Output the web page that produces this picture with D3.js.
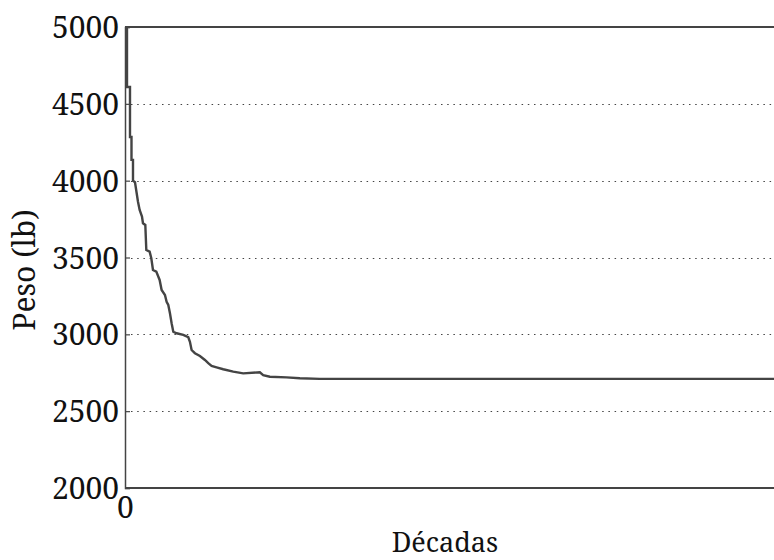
<!DOCTYPE html>
<html>
<head>
<meta charset="utf-8">
<script src="https://cdn.jsdelivr.net/npm/d3@7"></script>
<style>
  html, body { margin: 0; padding: 0; background: #fff; }
</style>
</head>
<body>
<svg id="chart" width="774" height="560"></svg>
<script>
// Peso por década (lb)
const decades = [0.6, 0.6, 1.5, 1.5, 1.95, 1.95, 2.4, 2.4, 3.0, 3.9, 4.4, 5.1, 5.4, 6.1, 6.4, 7.4, 7.9, 8.4, 9.4, 10.4, 11.0, 12.0, 12.5, 13.0, 13.5, 14.0, 14.5, 15.5, 17.5, 19.0, 19.5, 20.0, 21.0, 22.5, 24.0, 25.0, 26.0, 27.5, 29.5, 32.5, 35.5, 40.5, 41.5, 43.5, 48.5, 52.5, 58.5, 200];
const weights = [5000, 4610, 4610, 4284, 4284, 4135, 4135, 4000, 3990, 3863, 3809, 3766, 3723, 3712, 3549, 3538, 3495, 3419, 3408, 3354, 3289, 3256, 3212, 3191, 3137, 3072, 3017, 3007, 2996, 2981, 2952, 2898, 2877, 2859, 2833, 2812, 2794, 2785, 2773, 2757, 2746, 2753, 2735, 2724, 2720, 2714, 2710, 2710];
const yTicks = [2000, 2500, 3000, 3500, 4000, 4500, 5000];
const gridTicks = [2500, 3000, 3500, 4000, 4500];
const xTicks = [0];

const FONT = "'Noto Serif', 'DejaVu Serif', serif";
const FS = 30;
const margin = { left: 125, top: 27, right: -17, bottom: 72 };
const W = 774, H = 560;
const svg = d3.select("#chart");

const x = d3.scaleLinear().domain([0, 200]).range([margin.left, W - margin.right]);
const y = d3.scaleLinear().domain([2000, 5000]).range([H - margin.bottom, margin.top]);

// dotted grid
svg.append("g").selectAll("line").data(gridTicks).join("line")
  .attr("x1", x(0) + 6).attr("x2", x(200))
  .attr("y1", d => Math.round(y(d)) + 0.5).attr("y2", d => Math.round(y(d)) + 0.5)
  .attr("stroke", "#444").attr("stroke-width", 1.2)
  .attr("stroke-dasharray", "1.5,4.7");

// frame: top and bottom lines
svg.append("line").attr("x1", x(0)).attr("x2", x(200))
  .attr("y1", y(5000)).attr("y2", y(5000))
  .attr("stroke", "#444").attr("stroke-width", 2);
svg.append("line").attr("x1", x(0)).attr("x2", x(200))
  .attr("y1", y(2000)).attr("y2", y(2000))
  .attr("stroke", "#444").attr("stroke-width", 2);

// y axis with inward ticks
const yAxis = d3.axisLeft(y).tickValues(yTicks).tickSize(-5).tickPadding(10).tickFormat(d3.format("d"));
const gy = svg.append("g").attr("transform", `translate(${x(0)},0)`).call(yAxis);
gy.select(".domain").attr("stroke", "#444").attr("stroke-width", 1.5);
gy.selectAll(".tick line").attr("stroke", "#444").attr("stroke-width", 1.2);
gy.selectAll(".tick text").attr("font-size", FS).attr("x", -6).attr("dy", "0.35em")
  .style("font-family", FONT).attr("fill", "#111");

// x axis: only origin tick
const xAxis = d3.axisBottom(x).tickValues(xTicks).tickSize(0).tickPadding(9).tickFormat(d3.format("d"));
const gx = svg.append("g").attr("transform", `translate(0,${y(2000)})`).call(xAxis);
gx.select(".domain").remove();
gx.selectAll(".tick text").attr("font-size", FS).attr("dy", "0.71em")
  .style("font-family", FONT).attr("fill", "#111");

// weight curve
svg.append("clipPath").attr("id", "plot-clip").append("rect")
  .attr("x", x(0)).attr("y", y(5000)).attr("width", x(200) - x(0)).attr("height", y(2000) - y(5000));
const line = d3.line().x(d => x(d[0])).y(d => y(d[1]));
svg.append("path")
  .datum(d3.zip(decades, weights))
  .attr("clip-path", "url(#plot-clip)")
  .attr("d", line)
  .attr("fill", "none").attr("stroke", "#444").attr("stroke-width", 2.4);

// axis titles
svg.append("text").attr("x", 445).attr("y", 552).attr("text-anchor", "middle")
  .style("font-family", FONT).attr("font-size", 27).attr("fill", "#111").text("Décadas");
svg.append("text").attr("transform", "translate(35,270) rotate(-90)")
  .attr("text-anchor", "middle").style("font-family", FONT).attr("font-size", FS)
  .attr("fill", "#111").text("Peso (lb)");
</script>
</body>
</html>
